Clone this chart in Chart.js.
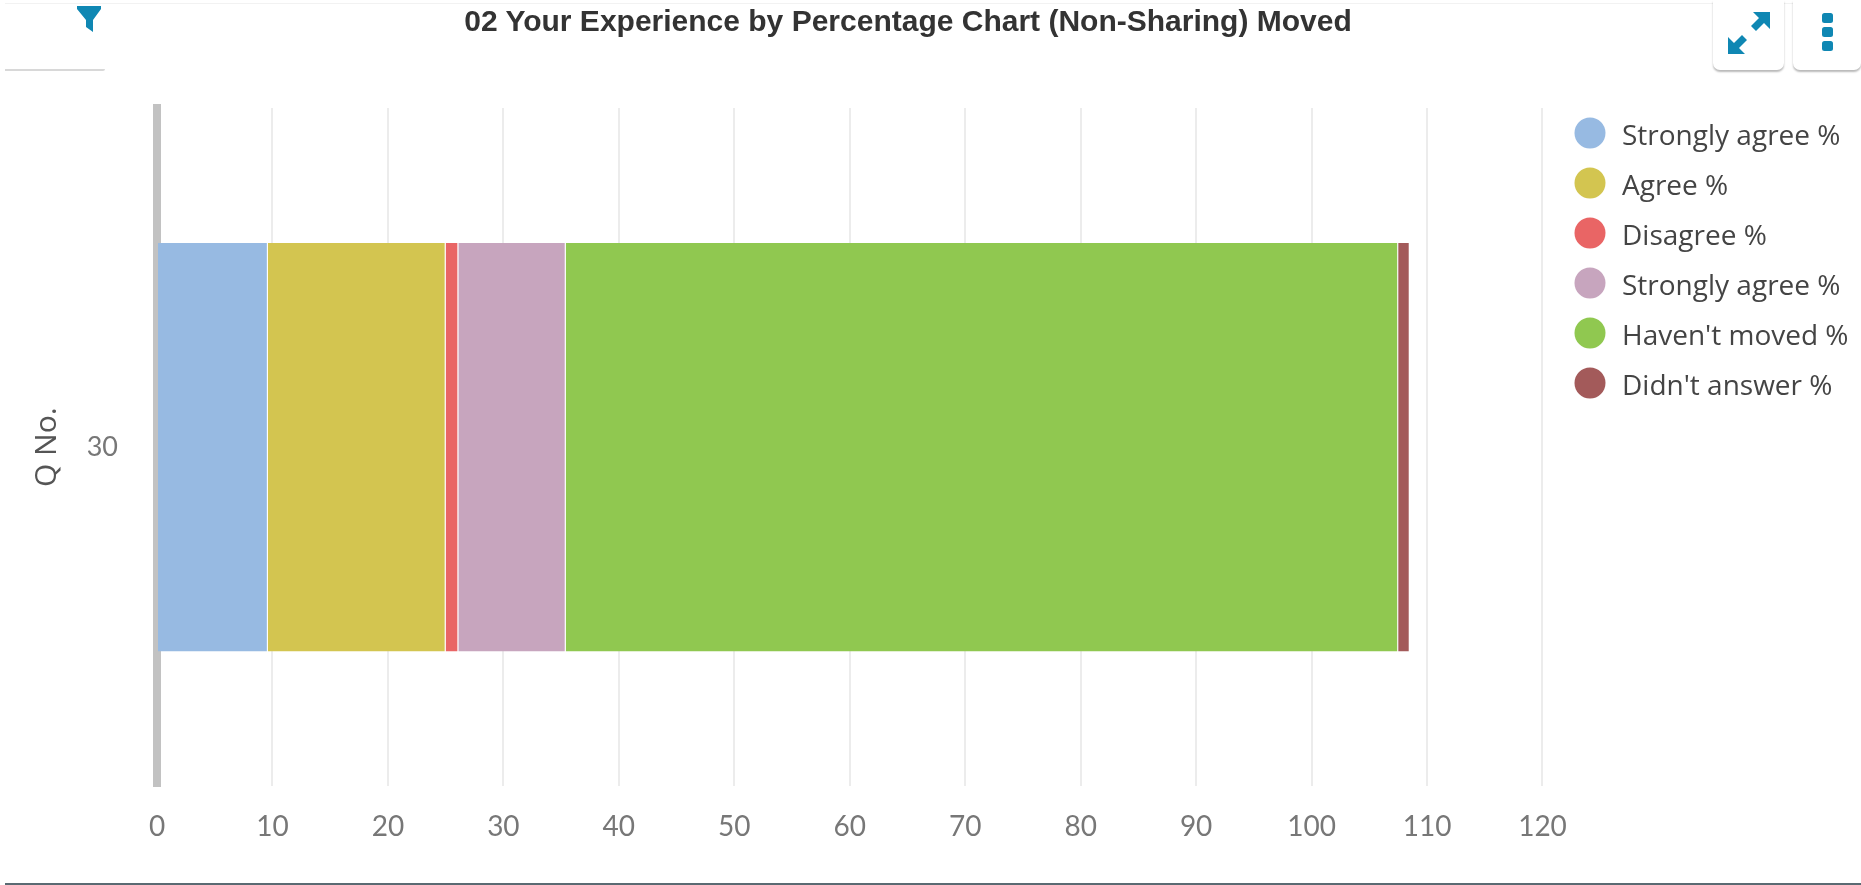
<!DOCTYPE html>
<html lang="en">
<head>
    <meta charset="UTF-8">
    <title>02 Your Experience by Percentage Chart (Non-Sharing) Moved</title>
    <style>
        html, body { margin: 0; height: 100%; background: #fff; overflow: hidden; }
        #wrap { position: relative; width: 1861px; height: 885px; }
        #chart { position: absolute; left: 0; top: 0; }
        #title {
            position: absolute; left: 408px; width: 1000px; top: 4px; text-align: center;
            font: bold 30px 'Liberation Sans', Arial, sans-serif; color: #333;
        }
        .card {
            position: absolute; top: 0; height: 70px; background: #fff; border-radius: 0 0 7px 7px;
            box-shadow: 0 2px 2px rgba(0,0,0,.28);
        }
        .card svg { position: absolute; }
        #leftcard { position: absolute; left: 5px; top: 69px; width: 100px; height: 2px; background: #d8d8d8; border-radius: 0 0 3px 0; }
        #topline { position: absolute; left: 5px; right: 0; top: 3px; height: 1px; background: #f2f2f2; }
        #bottomline { position: absolute; left: 5px; right: 0; top: 883px; height: 2px; background: #5a6a72; }
        #filter { position: absolute; left: 75px; top: 5px; }
    </style>
    <script src="https://cdn.jsdelivr.net/npm/chart.js"></script>
</head>
<body>
<div id="wrap">
    <canvas id="chart" width="1861" height="885"></canvas>
    <div id="topline"></div>
    <div id="bottomline"></div>
    <div id="leftcard"></div>
    <svg id="filter" width="28" height="28" viewBox="0 0 28 28"><path d="M2 1h24v3L18 15v12l-7-5V15L2 4z" fill="#0f87b3"/></svg>
    <div id="title">02 Your Experience by Percentage Chart (Non-Sharing) Moved</div>
    <div class="card" style="left:1713px;width:71px">
        <svg style="left:15px;top:12px" width="42" height="42" viewBox="0 0 42 42"><path d="M25 0h17v17l-6-6-8 8-5-5 8-8zM17 42H0V25l6 6 8-8 5 5-8 8z" fill="#0f87b3"/></svg>
    </div>
    <div class="card" style="left:1793px;width:68px">
        <svg style="left:29px;top:12px" width="12" height="40" viewBox="0 0 12 40"><rect y="1" width="11" height="10" rx="2.5" fill="#0f87b3"/><rect y="15" width="11" height="10" rx="2.5" fill="#0f87b3"/><rect y="29" width="11" height="10" rx="2.5" fill="#0f87b3"/></svg>
    </div>
</div>
<script>
    const categories = ['30'];
    const seriesNames = ['Strongly agree %', 'Agree %', 'Disagree %', 'Strongly agree %', "Haven't moved %", "Didn't answer %"];
    const seriesValues = [[9.6], [15.4], [1.1], [9.3], [72.1], [1.0]];
    const seriesColors = ['#97bae2', '#d3c550', '#e96565', '#c7a5be', '#90c850', '#a35a5a'];
    const xTicks = [0, 10, 20, 30, 40, 50, 60, 70, 80, 90, 100, 110, 120];

    // round legend markers, drawn on small canvases so the gap to the text can be wider than the circle
    // the circle sits above the canvas middle because the text is a little lower than the marker
    const circleFor = color => {
        const c = document.createElement('canvas');
        c.width = 32;
        c.height = 40;
        const ctx = c.getContext('2d');
        ctx.fillStyle = color;
        ctx.beginPath();
        ctx.arc(16, 16, 15.5, 0, Math.PI * 2);
        ctx.fill();
        return c;
    };

    // the legend sits higher than the plot area in the original
    const legendPlace = {
        id: 'legendPlace',
        afterLayout(chart) {
            chart.legend.left = 1550;
            chart.legend.top = 101;
        }
    };

    new Chart(document.getElementById('chart'), {
        type: 'bar',
        plugins: [legendPlace],
        data: {
            labels: categories,
            datasets: seriesNames.map((name, i) => ({
                label: name,
                data: seriesValues[i],
                backgroundColor: seriesColors[i],
                borderColor: 'rgba(255,255,255,0.3)',
                borderWidth: { left: 0, right: 1, top: 0, bottom: 0 },
                categoryPercentage: 1,
                barPercentage: 0.602
            }))
        },
        options: {
            indexAxis: 'y',
            responsive: false,
            animation: false,
            layout: { padding: { top: 108, bottom: 17, left: 23, right: 10 } },
            plugins: {
                tooltip: { enabled: false },
                legend: {
                    position: 'right',
                    align: 'start',
                    labels: {
                        usePointStyle: true,
                        boxHeight: 22,
                        pointStyleWidth: 36,
                        padding: 22,
                        color: '#444',
                        font: { family: "'Open Sans'", size: 28 },
                        generateLabels(chart) {
                            return Chart.defaults.plugins.legend.labels.generateLabels(chart).map((item, i) => {
                                item.pointStyle = circleFor(seriesColors[i]);
                                return item;
                            });
                        }
                    }
                }
            },
            scales: {
                x: {
                    stacked: true,
                    min: 0,
                    max: 120,
                    afterBuildTicks: s => { s.ticks = xTicks.map(v => ({ value: v })); },
                    grid: { color: '#ececec', lineWidth: 2, drawTicks: false },
                    border: { display: false },
                    ticks: { color: '#777', padding: 24, maxRotation: 0, font: { family: 'Lato', size: 28 } }
                },
                y: {
                    stacked: true,
                    afterFit: s => { s.width = 134; },
                    grid: { display: false },
                    border: { color: '#c2c2c2', width: 8 },
                    ticks: { color: '#777', padding: 31, font: { family: 'Lato', size: 27 } },
                    title: { display: true, text: 'Q No.', color: '#555', padding: 6, font: { family: "'Open Sans'", size: 30 } }
                }
            }
        }
    });
</script>
</body>
</html>
